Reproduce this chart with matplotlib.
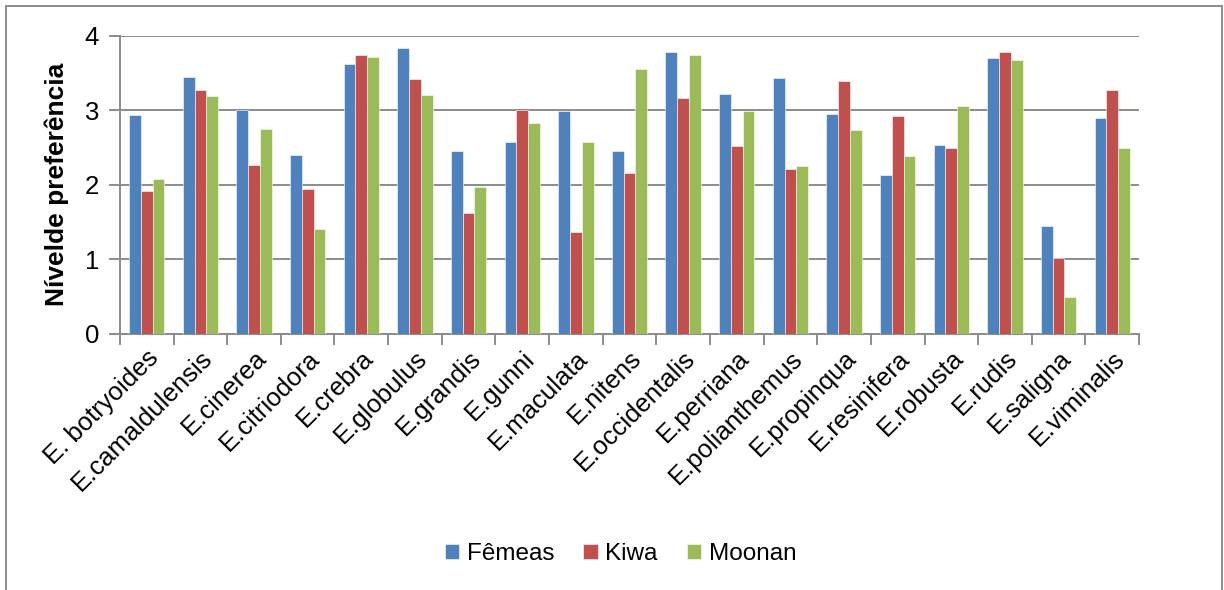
import numpy as np
import matplotlib.pyplot as plt
from matplotlib.patches import Rectangle

plt.rcParams['font.family'] = ['Liberation Sans', 'DejaVu Sans']

especies = ["E. botryoides", "E.camaldulensis", "E.cinerea", "E.citriodora", "E.crebra",
            "E.globulus", "E.grandis", "E.gunni", "E.maculata", "E.nitens",
            "E.occidentalis", "E.perriana", "E.polianthemus", "E.propinqua", "E.resinifera",
            "E.robusta", "E.rudis", "E.saligna", "E.viminalis"]

femeas = [2.94, 3.45, 3.00, 2.40, 3.62, 3.84, 2.46, 2.58, 2.99, 2.46,
          3.78, 3.22, 3.43, 2.95, 2.13, 2.53, 3.70, 1.45, 2.90]
kiwa = [1.92, 3.28, 2.26, 1.94, 3.74, 3.42, 1.62, 3.00, 1.36, 2.16,
        3.17, 2.52, 2.21, 3.39, 2.93, 2.50, 3.78, 1.01, 3.28]
moonan = [2.08, 3.19, 2.75, 1.41, 3.72, 3.21, 1.97, 2.83, 2.57, 3.55,
          3.75, 2.99, 2.25, 2.74, 2.39, 3.06, 3.68, 0.49, 2.50]

series = [("Fêmeas", femeas, "#4F81BD"),
          ("Kiwa", kiwa, "#C0504D"),
          ("Moonan", moonan, "#9BBB59")]

fig = plt.figure(figsize=(12.24, 5.90), dpi=100)
ax = fig.add_axes([0.098, 0.4347, 0.8326, 0.5043])

x = np.arange(len(especies))
w = 0.22
for i, (nome, vals, cor) in enumerate(series):
    ax.bar(x + (i - 1) * w, vals, w, color=cor, label=nome, zorder=3,
           edgecolor='white', linewidth=0.4)

grey = '#8c8c8c'
ax.set_xlim(-0.5, len(especies) - 0.5)
ax.set_ylim(0, 4)
ax.set_yticks([0, 1, 2, 3, 4])
ax.yaxis.grid(True, color=grey, linewidth=1.4, zorder=0)
ax.set_axisbelow(True)

for s in ['top', 'right']:
    ax.spines[s].set_visible(False)
for s in ['left', 'bottom']:
    ax.spines[s].set_color(grey)
    ax.spines[s].set_linewidth(1.4)

# ticks between the groups, labels at group centres
ax.set_xticks(np.arange(len(especies) + 1) - 0.5)
ax.set_xticklabels([])
ax.set_xticks(x, minor=True)
ax.set_xticklabels(especies, minor=True, rotation=45, ha='right',
                   rotation_mode='anchor', fontsize=18.5)
ax.tick_params(axis='x', which='minor', length=0, pad=9)
ax.tick_params(axis='both', which='major', length=8, width=1.4, color=grey,
               direction='out')
ax.tick_params(axis='y', labelsize=18.5, pad=7)

ax.set_ylabel("Nívelde preferência", fontsize=19, fontweight='bold', labelpad=11)

fig.legend(loc='center', bbox_to_anchor=(0.507, 0.061), ncol=3, frameon=False,
           fontsize=17.5, handlelength=0.6, handleheight=0.6, handletextpad=0.3,
           columnspacing=1.2)

# outer chart frame
fig.patches.append(Rectangle((6 / 1224, -0.02), 1216 / 1224, 1.02 - 6 / 590,
                             transform=fig.transFigure, fill=False,
                             edgecolor=grey, linewidth=1.4))

fig.savefig("out.png", dpi=100)
